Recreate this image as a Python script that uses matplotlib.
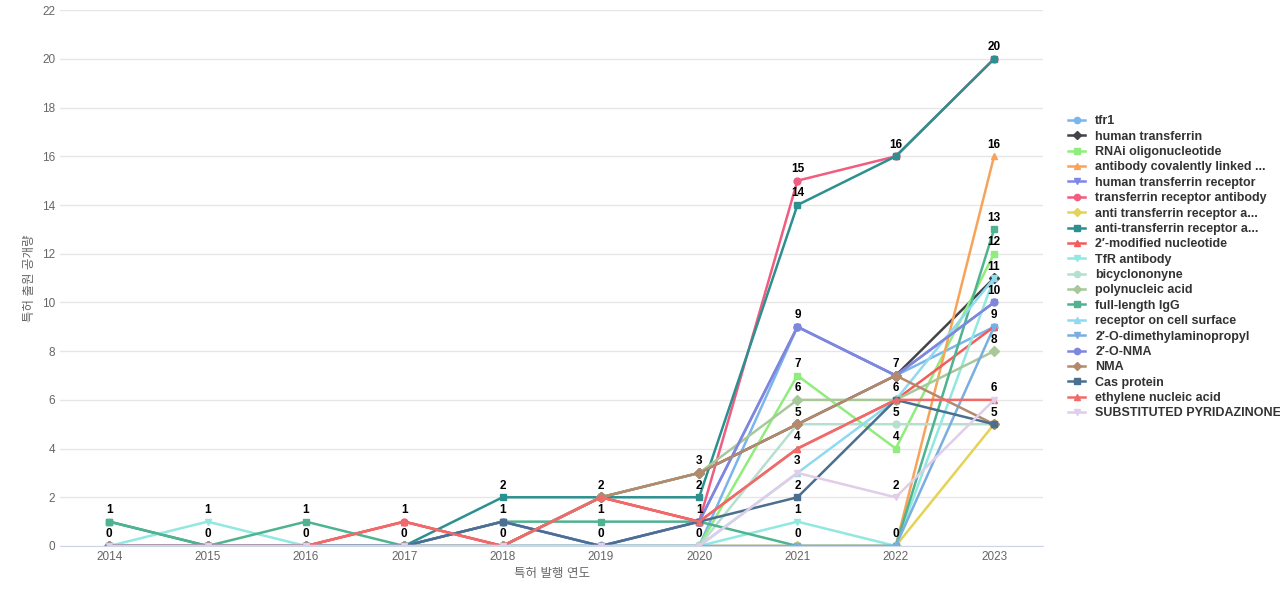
import matplotlib
matplotlib.use("Agg")
import matplotlib.pyplot as plt

plt.rcParams['font.family'] = ['Liberation Sans', 'Noto Sans CJK KR', 'DejaVu Sans']

years = [2014, 2015, 2016, 2017, 2018, 2019, 2020, 2021, 2022, 2023]

names = ["tfr1", "human transferrin", "RNAi oligonucleotide", "antibody covalently linked ...",
         "human transferrin receptor", "transferrin receptor antibody", "anti transferrin receptor a...",
         "anti-transferrin receptor a...", "2\u2032-modified nucleotide", "TfR antibody", "bicyclononyne",
         "polynucleic acid", "full-length IgG", "receptor on cell surface", "2\u2032-O-dimethylaminopropyl",
         "2\u2032-O-NMA", "NMA", "Cas protein", "ethylene nucleic acid", "SUBSTITUTED PYRIDAZINONE"]

values = [
    [0, 0, 0, 0, 0, 0, 0, 9, 7, 9],
    [0, 0, 0, 0, 0, 2, 3, 5, 7, 11],
    [0, 0, 0, 0, 0, 0, 0, 7, 4, 12],
    [0, 0, 0, 0, 0, 0, 0, 0, 0, 16],
    [0, 0, 0, 0, 1, 0, 1, 9, 7, 10],
    [0, 0, 0, 1, 0, 2, 1, 15, 16, 20],
    [0, 0, 0, 0, 0, 0, 0, 0, 0, 5],
    [1, 0, 0, 0, 2, 2, 2, 14, 16, 20],
    [0, 0, 0, 1, 0, 2, 1, 4, 6, 9],
    [0, 1, 0, 0, 0, 0, 0, 1, 0, 11],
    [0, 0, 0, 0, 0, 0, 0, 5, 5, 5],
    [0, 0, 0, 0, 0, 2, 3, 6, 6, 8],
    [1, 0, 1, 0, 1, 1, 1, 0, 0, 13],
    [0, 0, 0, 0, 0, 0, 0, 3, 6, 11],
    [0, 0, 0, 0, 0, 0, 0, 0, 0, 9],
    [0, 0, 0, 0, 1, 0, 1, 9, 7, 10],
    [0, 0, 0, 0, 0, 2, 3, 5, 7, 5],
    [0, 0, 0, 0, 1, 0, 1, 2, 6, 5],
    [0, 0, 0, 1, 0, 2, 1, 4, 6, 6],
    [0, 0, 0, 0, 0, 0, 0, 3, 2, 6],
]

colors = ["#7cb5ec", "#434348", "#90ed7d", "#f7a35c", "#8085e9", "#f15c80", "#e4d354",
          "#2b908f", "#f45b5b", "#91e8e1", "#b5e0d0", "#a8c89a", "#4fb38f", "#8fdaf0",
          "#7aaee0", "#7f86dd", "#b38a6e", "#4a6f8f", "#f06a6a", "#e0cde8"]
markers = ["o", "D", "s", "^", "v", "o", "D", "s", "^", "v", "o", "D", "s", "^", "v",
           "o", "D", "s", "^", "v"]

fig, ax = plt.subplots(figsize=(12.8, 6), dpi=100)
fig.subplots_adjust(left=0.047, right=0.815, top=0.983, bottom=0.09)

for n, v, c, m in zip(names, values, colors, markers):
    ax.plot(years, v, color=c, marker=m, markersize=5, linewidth=1.8, label=n)

# label each distinct value once per year
for i, y in enumerate(years):
    seen = sorted(set(v[i] for v in values))
    for s in seen:
        ax.annotate(str(s), (y, s), xytext=(0, 4), textcoords="offset points",
                    ha="center", va="bottom", fontsize=8.5, fontweight="bold")

ax.set_xlim(2013.5, 2023.5)
ax.set_ylim(0, 22)
ax.set_yticks(range(0, 23, 2))
ax.set_xticks(years)
ax.tick_params(colors="#666666", labelsize=8.5, length=0)
ax.grid(axis="y", color="#e6e6e6", linewidth=1)
ax.set_axisbelow(True)
for s in ["top", "right", "left"]:
    ax.spines[s].set_visible(False)
ax.spines["bottom"].set_color("#ccd6eb")
ax.set_xlabel("특허 발행 연도", color="#666666", fontsize=9)
ax.set_ylabel("특허 출원 공개량", color="#666666", fontsize=9)

leg = ax.legend(loc="center left", bbox_to_anchor=(1.02, 0.52), frameon=False,
                handlelength=1.4, labelspacing=0.27, borderaxespad=0, markerscale=0.9,
                prop={"weight": "bold", "size": 9})
for t in leg.get_texts():
    t.set_color("#333333")

fig.savefig("out.png")
